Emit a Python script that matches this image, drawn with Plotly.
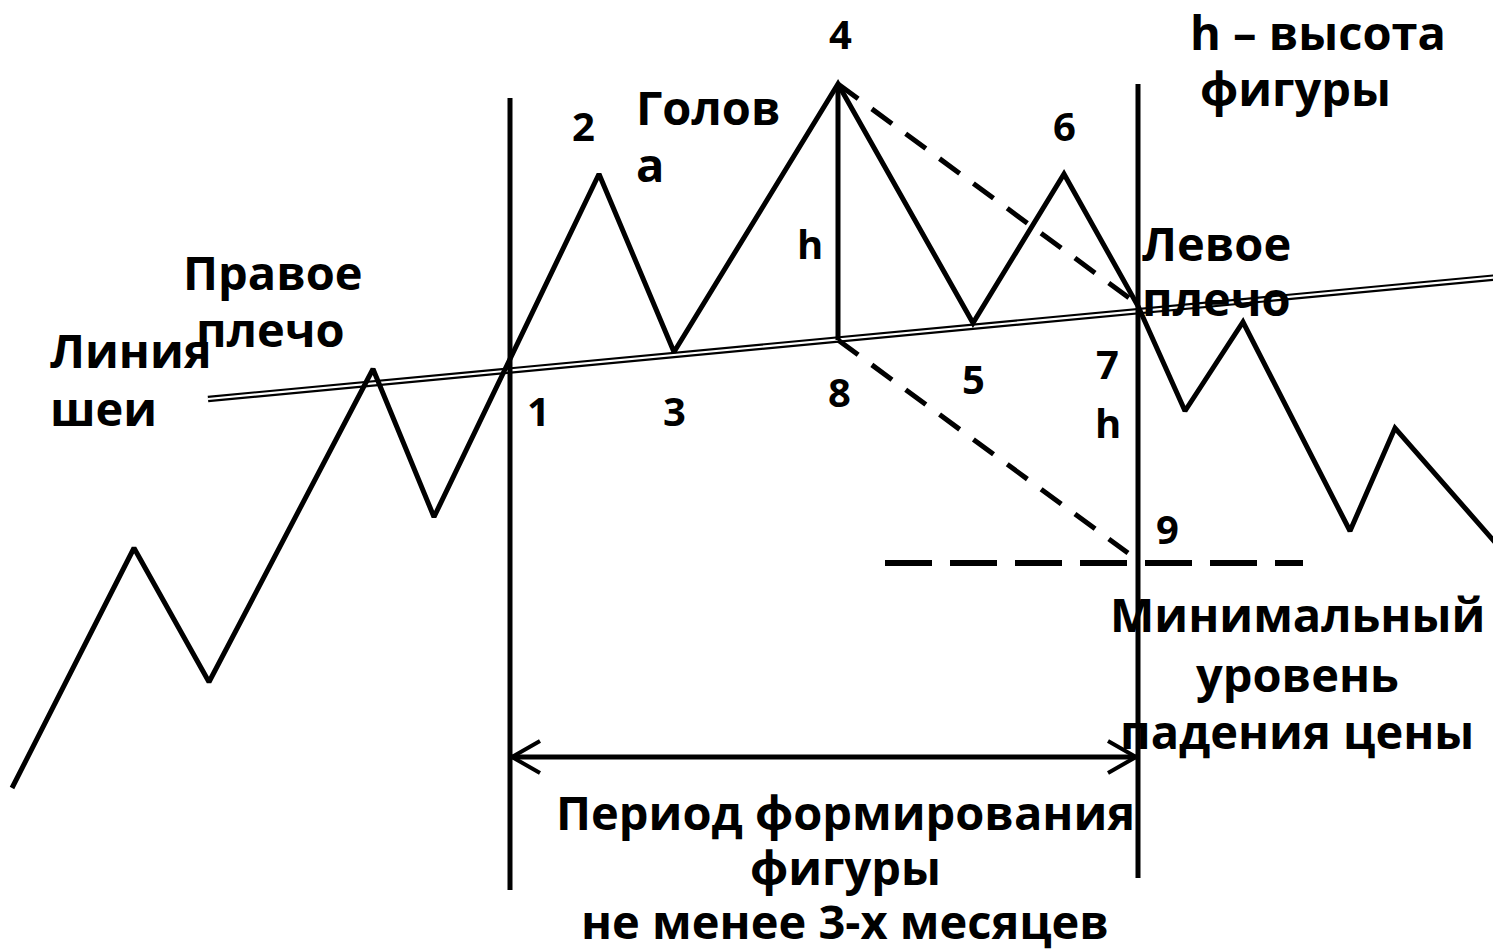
import plotly.graph_objects as go

# price path (screen-like units, y grows downward)
price_x = [12, 134, 209, 373, 434, 599, 674, 838, 973, 1064, 1138, 1185, 1243, 1350, 1395, 1500]
price_y = [788, 548, 682, 369, 517, 174, 352, 84, 323, 174, 306, 411, 322, 531, 428, 548]

neck_x = [208, 1500]
neck_y = [399, 277]

border_x = [510, 1138]
border_top = [98, 84]
border_bottom = [890, 878]

h_x = [838, 838]
h_y = [84, 340]

dash_up_x = [838, 1136]
dash_up_y = [84, 303]
dash_down_x = [838, 1128]
dash_down_y = [340, 553]
target_x = [885, 1303]
target_y = [563, 563]

period_x = [512, 1136]
period_y = 757

numbers = [
    ("4", 840, 33), ("2", 583, 125), ("6", 1064, 125), ("h", 810, 243),
    ("1", 538, 410), ("3", 674, 410), ("8", 839, 391), ("5", 973, 378),
    ("7", 1107, 363), ("h", 1108, 422), ("9", 1167, 528),
]

# one entry per text line: text, x, y, anchor
text_lines = [
    ("h – высота", 1188, 32, "left"),
    ("фигуры", 1198, 88, "left"),
    ("Голов", 634, 107, "left"),
    ("а", 634, 164, "left"),
    ("Левое", 1140, 243, "left"),
    ("плечо", 1140, 298, "left"),
    ("Правое", 273, 272, "center"),
    ("плечо", 270, 329, "center"),
    ("Линия", 48, 350, "left"),
    ("шеи", 48, 408, "left"),
    ("Минимальный", 1297, 614, "center"),
    ("уровень", 1297, 674, "center"),
    ("падения цены", 1297, 731, "center"),
    ("Период формирования", 845, 812, "center"),
    ("фигуры", 845, 867, "center"),
    ("не менее 3-х месяцев", 845, 921, "center"),
]

fig = go.Figure()

# neckline: thick black with a white core -> double line
fig.add_trace(go.Scatter(x=neck_x, y=neck_y, mode="lines",
                         line=dict(color="black", width=6.5), hoverinfo="skip"))
fig.add_trace(go.Scatter(x=neck_x, y=neck_y, mode="lines",
                         line=dict(color="white", width=2.2), hoverinfo="skip"))

for i in range(len(border_x)):
    fig.add_trace(go.Scatter(x=[border_x[i], border_x[i]], y=[border_top[i], border_bottom[i]],
                             mode="lines", line=dict(color="black", width=5), hoverinfo="skip"))

fig.add_trace(go.Scatter(x=h_x, y=h_y, mode="lines",
                         line=dict(color="black", width=5), hoverinfo="skip"))

fig.add_trace(go.Scatter(x=dash_up_x, y=dash_up_y, mode="lines",
                         line=dict(color="black", width=5, dash="25px,17px"), hoverinfo="skip"))
fig.add_trace(go.Scatter(x=dash_down_x, y=dash_down_y, mode="lines",
                         line=dict(color="black", width=5, dash="25px,17px"), hoverinfo="skip"))
fig.add_trace(go.Scatter(x=target_x, y=target_y, mode="lines",
                         line=dict(color="black", width=6, dash="47px,18px"), hoverinfo="skip"))

fig.add_trace(go.Scatter(x=price_x, y=price_y, mode="lines",
                         line=dict(color="black", width=5), hoverinfo="skip"))

# period arrow: shaft plus open chevron heads at both ends
head_len, head_half = 28, 16
fig.add_trace(go.Scatter(x=period_x, y=[period_y, period_y], mode="lines",
                         line=dict(color="black", width=5), hoverinfo="skip"))
for tip, sgn in ((period_x[0], 1), (period_x[1], -1)):
    fig.add_trace(go.Scatter(
        x=[tip + sgn * head_len, tip, tip + sgn * head_len],
        y=[period_y - head_half, period_y, period_y + head_half],
        mode="lines", line=dict(color="black", width=4), hoverinfo="skip"))

for t, x, y in numbers:
    fig.add_annotation(x=x, y=y, text=t, showarrow=False, xanchor="center", yanchor="middle",
                       font=dict(family="Open Sans", size=40, color="black", weight=700))

for t, x, y, al in text_lines:
    fig.add_annotation(x=x, y=y, text=t, showarrow=False, xanchor=al, yanchor="middle",
                       font=dict(family="Open Sans", size=47, color="black", weight=700))

# page has an 8px body margin, so the figure is 8px smaller and the ranges start at 8
fig.update_xaxes(range=[8, 1501], visible=False, fixedrange=True)
fig.update_yaxes(range=[950, 8], visible=False, fixedrange=True)
fig.update_layout(
    width=1493, height=942,
    margin=dict(l=0, r=0, t=0, b=0),
    plot_bgcolor="white", paper_bgcolor="white",
    showlegend=False,
)

fig.write_html("out.html")
